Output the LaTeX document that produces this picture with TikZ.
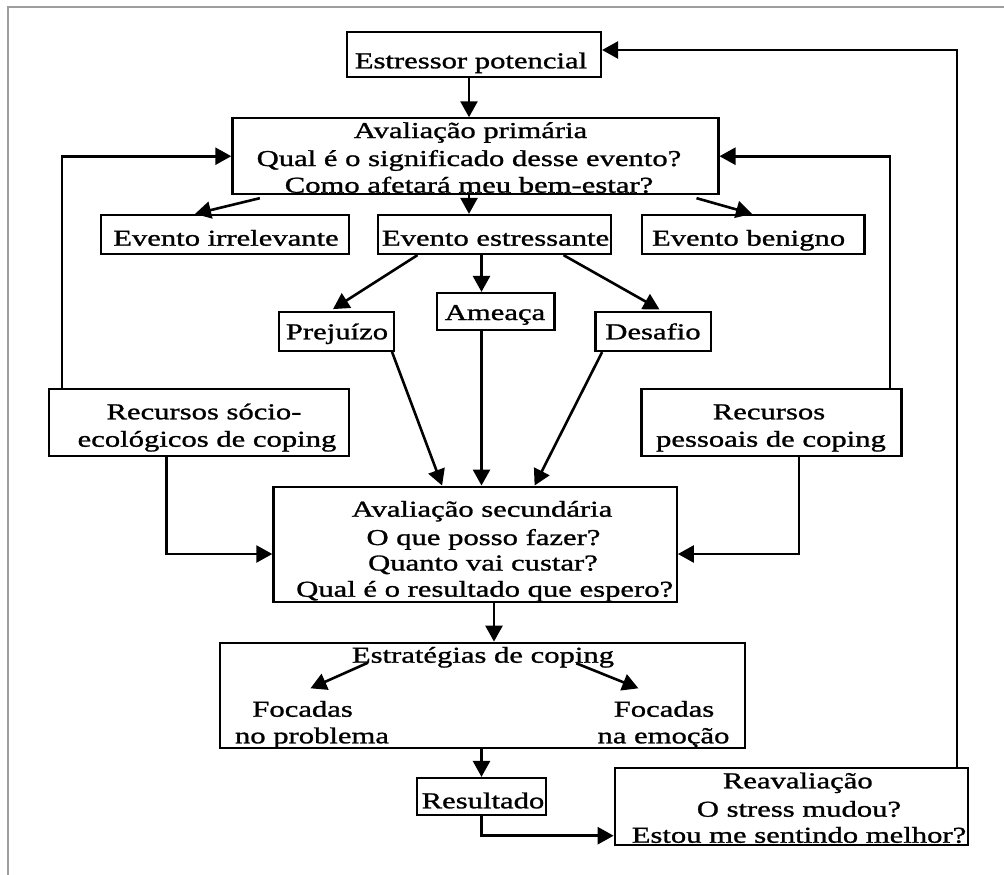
\documentclass[tikz,border=0pt]{standalone}
\usepackage{fontspec}
\setmainfont{Liberation Serif}[FakeStretch=1.35,FakeBold=1.2]
\usetikzlibrary{arrows.meta,calc}
\begin{document}
\begin{tikzpicture}[x=1pt,y=-1pt,
  box/.style={draw=black, line width=2.2pt, rectangle, inner sep=0pt},
  txt/.style={inner sep=0pt, anchor=base, font=\fontsize{22.7}{26.7}\selectfont},
  arr/.style={line width=2.6pt, -{Triangle[length=16pt,width=17pt]}},
  frameline/.style={draw=black!38, line width=2.5pt}]
\useasboundingbox (0,0) rectangle (1004,875);
\fill[white] (0,0) rectangle (1004,875);
% grey frame
\coordinate (fA) at (8,875);
\coordinate (fB) at (8,7);
\coordinate (fC) at (1004,7);
\draw[frameline] (fA) -- (fB) -- (fC);

% boxes
\node[box, minimum width=254pt, minimum height=45pt] (estr) at (474,54.5) {};
\node[box, minimum width=486pt, minimum height=75.7pt] (prim) at (475.4,156.2) {};
\node[box, minimum width=248pt, minimum height=39pt] (irr) at (225,234.5) {};
\node[box, minimum width=233pt, minimum height=39pt] (estrev) at (494.5,234.5) {};
\node[box, minimum width=222.8pt, minimum height=39pt] (ben) at (753,234.5) {};
\node[box, minimum width=115pt, minimum height=39pt] (prej) at (336.5,331.2) {};
\node[box, minimum width=117.8pt, minimum height=37pt] (amea) at (495.6,311.5) {};
\node[box, minimum width=115.2pt, minimum height=39pt] (desa) at (653.1,331.5) {};
\node[box, minimum width=300pt, minimum height=67pt] (recs) at (199,422.5) {};
\node[box, minimum width=260pt, minimum height=67pt] (recp) at (771.5,422.5) {};
\node[box, minimum width=403.4pt, minimum height=115.3pt] (sec) at (475.1,544.3) {};
\node[box, minimum width=525pt, minimum height=105.6pt] (estrat) at (482.2,695.5) {};
\node[box, minimum width=129pt, minimum height=37pt] (res) at (481.5,796.5) {};
\node[box, minimum width=353.3pt, minimum height=77pt] (reav) at (791.4,806.5) {};

% texts
\node[txt] (t-estr) at (471,68.3) {Estressor potencial};
\node[txt] (t-prim1) at (470.5,138) {Avaliação primária};
\node[txt] (t-prim2) at (469,166) {Qual é o significado desse evento?};
\node[txt] (t-prim3) at (469,192.7) {Como afetará meu bem-estar?};
\node[txt] (t-irr) at (226,245.7) {Evento irrelevante};
\node[txt] (t-estrev) at (495.6,245.7) {Evento estressante};
\node[txt] (t-ben) at (748.6,245.7) {Evento benigno};
\node[txt] (t-prej) at (337,339.3) {Prejuízo};
\node[txt] (t-amea) at (495,320) {Ameaça};
\node[txt] (t-desa) at (653,339.3) {Desafio};
\node[txt] (t-recs1) at (204,419.3) {Recursos sócio-};
\node[txt] (t-recs2) at (207,446.7) {ecológicos de coping};
\node[txt] (t-recp1) at (769,419.3) {Recursos};
\node[txt] (t-recp2) at (771,446.7) {pessoais de coping};
\node[txt] (t-sec1) at (482,516.7) {Avaliação secundária};
\node[txt] (t-sec2) at (483.5,545) {O que posso fazer?};
\node[txt] (t-sec3) at (483,570.5) {Quanto vai custar?};
\node[txt] (t-sec4) at (484.7,596.7) {Qual é o resultado que espero?};
\node[txt] (t-estrat) at (483,662.7) {Estratégias de coping};
\node[txt] (t-fp1) at (302.6,716.7) {Focadas};
\node[txt] (t-fp2) at (312,743.3) {no problema};
\node[txt] (t-fe1) at (664,716.7) {Focadas};
\node[txt] (t-fe2) at (663.5,743.3) {na emoção};
\node[txt] (t-res) at (483,808.3) {Resultado};
\node[txt] (t-reav1) at (797.8,788.3) {Reavaliação};
\node[txt] (t-reav2) at (799,816.7) {O stress mudou?};
\node[txt] (t-reav3) at (799,842.7) {Estou me sentindo melhor?};

% helper coordinates
\coordinate (c1) at (469,0);
\coordinate (c2) at (481.5,0);
\coordinate (c3) at (494,0);
\coordinate (lx) at (62,0);
\coordinate (rx) at (890,0);
\coordinate (ox) at (957,0);
\coordinate (ytop) at (0,50);
\coordinate (l2) at (166.5,0);
\coordinate (r2) at (799,0);
\coordinate (yl) at (0,554);
\coordinate (yr) at (0,835.7);

% connectors
\draw[arr] (estr.south -| c1) -- (prim.north -| c1);
\draw[arr] ($(prim.south west)+(28.6,3)$) -- ($(irr.north)+(-30,0)$);
\draw[arr] (prim.south -| c1) -- (estrev.north -| c1);
\draw[arr] ($(prim.south east)+(-23,3)$) -- ($(ben.north)+(-1,0)$);

\draw[arr] (recs.north -| lx) |- (prim.west);
\draw[arr] (recp.north -| rx) |- (prim.east);
\draw[arr] (reav.north -| ox) |- (estr.east |- ytop);

\draw[arr] ($(estrev.south)+(-77,0)$) -- ($(prej.north)+(-3.5,-1.5)$);
\draw[arr] (estrev.south -| c2) -- (amea.north -| c2);
\draw[arr] ($(estrev.south)+(69,0)$) -- ($(desa.north)+(6.4,-1.5)$);

\draw[arr] ($(prej.south)+(55.5,0)$) -- ($(sec.north)+(-33,0)$);
\draw[arr] (amea.south -| c2) -- (sec.north -| c2);
\draw[arr] ($(desa.south)+(-51,0)$) -- ($(sec.north)+(59.5,0)$);

\draw[arr] (recs.south -| l2) |- (sec.west |- yl);
\draw[arr] (recp.south -| r2) |- (sec.east |- yl);

\draw[arr] (sec.south -| c3) -- (estrat.north -| c3);
\coordinate (s1) at (368,662.7);
\coordinate (e1) at (310.5,688.3);
\coordinate (s2) at (576.3,663.3);
\coordinate (e2) at (638.4,688.3);
\draw[arr] (s1) -- (e1);
\draw[arr] (s2) -- (e2);

\draw[arr] (estrat.south -| c2) -- (res.north);
\draw[arr] (res.south) |- (reav.west |- yr);
\end{tikzpicture}
\end{document}
